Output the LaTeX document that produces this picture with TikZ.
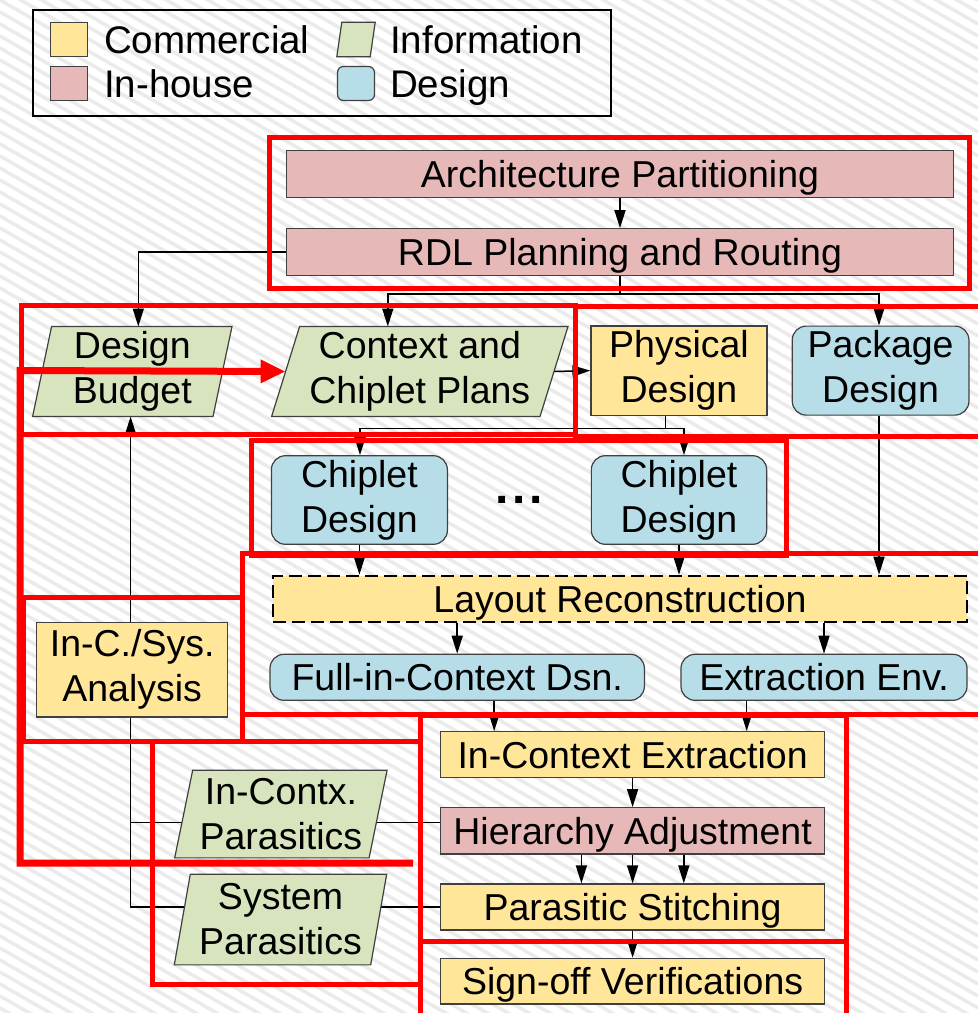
\documentclass[tikz,border=0pt]{standalone}
\usepackage{fontspec}
\setmainfont{Liberation Sans}
\usetikzlibrary{arrows.meta,calc}
\definecolor{commc}{HTML}{FFE699}
\definecolor{inhc}{HTML}{E6B9B8}
\definecolor{infoc}{HTML}{D7E4BD}
\definecolor{dsgnc}{HTML}{B7DEE8}
\definecolor{edgec}{HTML}{404040}
\definecolor{stripec}{HTML}{EBEBEB}
\pgfdeclarelayer{bg}
\pgfdeclarelayer{wires}
\pgfdeclarelayer{shapes}
\pgfdeclarelayer{marks}
\pgfsetlayers{bg,wires,shapes,main,marks}
\newcommand\nodefont{\fontsize{37.5}{45}\selectfont}
\newcommand\legfont{\fontsize{38.5}{45}\selectfont}
% slanted outline behind an (unfilled) information node: #1 node name, #2 total slant
\newcommand\drawinfo[2]{%
  \begin{pgfonlayer}{shapes}
    \draw[infoshape] ($(#1.north west)+(#2/2,0)$) -- ($(#1.north east)+(#2/2,0)$)
      -- ($(#1.south east)-(#2/2,0)$) -- ($(#1.south west)-(#2/2,0)$) -- cycle;
  \end{pgfonlayer}}
\tikzset{
  box/.style={draw=edgec, line width=1.2pt, inner sep=0pt, align=center, font=\nodefont},
  comm/.style={box, fill=commc},
  inh/.style={box, fill=inhc},
  dsgn/.style={box, fill=dsgnc, rounded corners=14pt},
  info/.style={inner sep=0pt, align=center, font=\nodefont},
  infoshape/.style={draw=edgec, line width=1.2pt, fill=infoc},
  oneline/.style={text depth=0pt},
  wire/.style={line width=1.5pt, black},
  flow/.style={wire, -{Triangle[length=18pt,width=11pt]}},
  zone/.style={draw=red, line width=5pt},
  legtext/.style={anchor=base west, inner sep=0pt, font=\legfont},
}
\begin{document}
\begin{tikzpicture}[x=1pt,y=-1pt]
\useasboundingbox (0,0) rectangle (978,1013);

% hatched backdrop
\begin{pgfonlayer}{bg}
  \begin{scope}
    \clip (0,0) rectangle (978,1013);
    \fill[white] (0,0) rectangle (978,1013);
    \foreach \c in {-600,-588,...,1020}
      \draw[stripec, line width=3.5pt] (0,\c) -- (978,\c+564);
  \end{scope}
\end{pgfonlayer}

% legend
\node[draw=black, line width=1.5pt, minimum width=578, minimum height=106, inner sep=0pt] (legend) at (322,63) {};
\node[comm, minimum width=37, minimum height=34] (swcomm) at (69,39.5) {};
\node[inh, minimum width=37, minimum height=34] (swinh) at (69,83.5) {};
\node[info, minimum width=33, minimum height=34] (swinfo) at (356,39.5) {};
\drawinfo{swinfo}{5}
\node[dsgn, rounded corners=6pt, minimum width=37, minimum height=34] (swdsgn) at (356,83.5) {};
\node[legtext] (lcomm) at (104,53.5) {Commercial};
\node[legtext] (linh) at (104,97.5) {In-house};
\node[legtext] (linfo) at (390,53.5) {Information};
\node[legtext] (ldsgn) at (390,97.5) {Design};

% planning
\node[inh, oneline, minimum width=667, minimum height=47] (ap) at (620,174.2) {Architecture Partitioning};
\node[inh, oneline, minimum width=667, minimum height=47] (rdl) at (620,252.2) {RDL Planning and Routing};

% budgets and plans
\node[info, minimum width=180, minimum height=89.6] (budget) at (132.3,371.5) {Design\\Budget};
\drawinfo{budget}{19}
\node[info, minimum width=268, minimum height=89.6] (plans) at (419.8,371.5) {Context and\\Chiplet Plans};
\drawinfo{plans}{28}
\node[comm, minimum width=176, minimum height=89.3] (phys) at (679,370.6) {Physical\\Design};
\node[dsgn, minimum width=176.7, minimum height=89] (pkg) at (880.6,370.6) {Package\\Design};

% chiplets
\node[dsgn, minimum width=176, minimum height=88.6] (chip1) at (359.4,500) {Chiplet\\Design};
\node[dsgn, minimum width=175.3, minimum height=88.6] (chip2) at (679,500) {Chiplet\\Design};
\node[inner sep=0pt, font=\fontsize{48}{48}\selectfont\bfseries] (dots) at (519,500) {.\kern3.7pt.\kern3.7pt.};

% reconstruction
\node[box, oneline, fill=commc, draw=black, line width=2pt, dash pattern=on 13pt off 6pt, minimum width=694, minimum height=46.6] (lr) at (620,599) {Layout Reconstruction};
\node[dsgn, oneline, minimum width=374.4, minimum height=46] (full) at (457.2,677.3) {Full-in-Context Dsn.};
\node[dsgn, oneline, minimum width=286, minimum height=46] (env) at (824,677.3) {Extraction Env.};

% analysis
\node[comm, minimum width=191, minimum height=94.7] (ana) at (132.2,669.7) {In-C./Sys.\\Analysis};

% extraction and sign-off
\node[comm, oneline, minimum width=384.3, minimum height=46] (ice) at (632.6,754.7) {In-Context Extraction};
\node[inh, oneline, minimum width=384.3, minimum height=46.3] (ha) at (632.6,830.9) {Hierarchy Adjustment};
\node[comm, oneline, minimum width=384.3, minimum height=46] (ps) at (632.6,907) {Parasitic Stitching};
\node[comm, oneline, minimum width=384.3, minimum height=45.7] (sov) at (632.6,981.2) {Sign-off Verifications};

% parasitics
\node[info, minimum width=194, minimum height=87.3] (icp) at (280.9,814) {In-Contx.\\Parasitics};
\drawinfo{icp}{18}
\node[info, minimum width=196, minimum height=90.3] (sysp) at (280.5,919.5) {System\\Parasitics};
\drawinfo{sysp}{16}

% connectors
\begin{pgfonlayer}{wires}
  \draw[flow] (ap) -- (rdl);
  \draw[flow] (rdl.west) -| ([xshift=6pt]budget.north);
  \coordinate (split) at ($(rdl.south)+(0,17.6)$);
  \draw[wire] (rdl.south) -- (split);
  \draw[flow] (split) -| ([xshift=-32pt]plans.north);
  \draw[flow] (split) -| ([xshift=-1.6pt]pkg.north);
  \draw[flow] (plans.east) -- (phys.west);
  \coordinate (fork) at ($([xshift=-13.7pt]phys.south)+(0,12.4)$);
  \draw[wire] ([xshift=-13.7pt]phys.south) -- (fork);
  \draw[flow] (fork) -| ([xshift=0.6pt]chip1.north);
  \draw[flow] (fork) -| ([xshift=5pt]chip2.north);
  \draw[flow] ([xshift=-1.6pt]pkg.south) -- ([xshift=-1.6pt]pkg.south |- lr.north);
  \draw[flow] (chip1.south) -- (chip1.south |- lr.north);
  \draw[flow] (chip2.south) -- (chip2.south |- lr.north);
  \draw[flow] (full.north |- lr.south) -- (full.north);
  \draw[flow] (env.north |- lr.south) -- (env.north);
  \draw[flow] ([xshift=37pt]full.south) -- ([xshift=37pt]full.south |- ice.north);
  \draw[flow] ([xshift=-77.3pt]env.south) -- ([xshift=-77.3pt]env.south |- ice.north);
  \draw[flow] (ice) -- (ha);
  \foreach \dx in {-51.2,0,51.2}
    \draw[flow] ([xshift=\dx pt]ha.south) -- ([xshift=\dx pt]ha.south |- ps.north);
  \draw[flow] (ps) -- (sov);
  \coordinate (trunk) at ($(budget.south)+(-1.7,0)$);
  \draw[flow] (ps.west) -| (trunk);
  \coordinate (haL) at ([yshift=8.6pt]ha.west);
  \draw[wire] (haL) -- (haL -| trunk);
\end{pgfonlayer}

% highlighted groups
\begin{pgfonlayer}{marks}
  \begin{scope}
    \clip (0,0) rectangle (978,1013);
    \draw[zone] (269.5,137) rectangle (969,288);
    \draw[zone] (21,305) rectangle (575,434.5);
    \draw[zone] (995,306) -- (575,306) -- (575,436.5) -- (995,436.5);
    \draw[zone] (251,440) rectangle (786,555.5);
    \draw[zone] (995,553) -- (242,553) -- (242,714.5) -- (995,714.5);
    \draw[zone] (23,597) rectangle (242,741);
    \draw[zone] (152,741) rectangle (420,984);
    \draw[zone] (420,715) rectangle (846,941);
    \draw[zone] (420,1030) -- (420,941) -- (846,941) -- (846,1030);
    \draw[red, line width=7pt, -{Triangle[length=25pt,width=22pt]}]
      (413,863) -- (20,863) -- (20,370.5) -- (plans.west);
  \end{scope}
\end{pgfonlayer}
\end{tikzpicture}
\end{document}
